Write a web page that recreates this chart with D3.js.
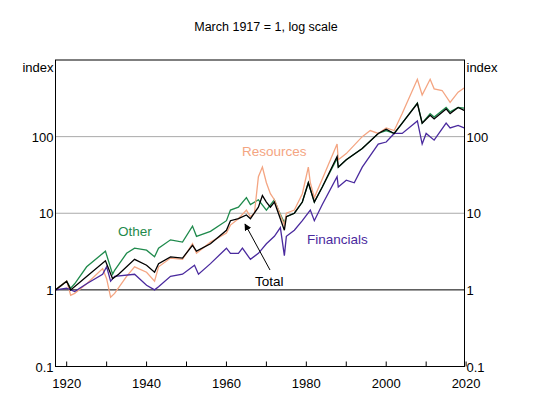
<!DOCTYPE html>
<html><head><meta charset="utf-8">
<script src="https://cdn.jsdelivr.net/npm/d3@7"></script>
<style>body{margin:0;background:#fff}text{font-family:"Liberation Sans",Arial,sans-serif}</style>
</head><body><svg id="c" width="533" height="418"></svg>
<script>
const otherData=[[1917.2,1],[1920,1.3],[1921,1.05],[1922,1.2],[1925,2],[1929.7,3.2],[1931.5,1.6],[1932,1.8],[1935,3],[1937,3.5],[1940,3.3],[1942,2.7],[1943,3.5],[1946,4.5],[1949,4.2],[1951.5,6.8],[1952.5,5],[1956,5.8],[1960,8],[1961,11],[1963,12],[1965,16],[1966,13],[1968,15],[1970,11],[1972,15],[1973,11],[1974.5,7.5],[1975,9],[1977,10],[1979,14],[1980.5,25],[1982,14],[1984,22],[1987.7,52],[1988,40],[1990,50],[1994,70],[1998,110],[2000,120],[2002,110],[2004,150],[2007.8,275],[2009,150],[2011,200],[2012,180],[2015,240],[2016,210],[2018,240],[2019.5,235]];
const totalData=[[1917.2,1],[1920,1.3],[1921,1],[1925,1.5],[1929.7,2.4],[1931.5,1.4],[1933,1.6],[1937,2.5],[1940,2.1],[1942,1.7],[1943,2.2],[1946,2.7],[1949,2.6],[1951.5,3.8],[1952.5,3.2],[1956,4],[1960,6],[1961,8],[1963,8.5],[1965,9.5],[1966,8.5],[1968,12],[1969,17],[1970,14],[1971,12],[1972,14],[1973,10],[1974.5,6],[1975,9],[1977,10],[1979,14],[1980.5,25],[1982,14],[1984,22],[1987.7,55],[1988,40],[1990,50],[1994,70],[1998,110],[2000,125],[2002,110],[2004,150],[2007.8,270],[2009,150],[2011,190],[2012,170],[2015,230],[2016,200],[2018,240],[2019.5,220]];
const resourcesData=[[1917.2,1],[1920,1.3],[1921,0.85],[1922,0.9],[1925,1.2],[1929,1.9],[1930,1.4],[1931,0.8],[1932,0.9],[1935,1.5],[1937,2],[1940,1.7],[1942,1.3],[1943,2],[1946,2.6],[1949,2.5],[1951.5,4],[1952.5,3],[1956,4.2],[1960,5.5],[1961,7],[1963,8.5],[1965,11],[1966,9],[1967,10],[1968,30],[1969,40],[1970,25],[1971,18],[1972,15],[1974.5,7],[1975,10],[1977,11],[1979,18],[1980.5,40],[1981,25],[1982,16],[1984,28],[1987.7,80],[1988,50],[1990,60],[1994,100],[1996,120],[1998,110],[2000,130],[2002,120],[2004,200],[2007.8,560],[2009,350],[2011,560],[2012,420],[2014,400],[2016,280],[2018,380],[2019.5,430]];
const financialsData=[[1917.2,1],[1920,1.05],[1922,0.95],[1925,1.2],[1929,1.6],[1930,2],[1931,1.3],[1932,1.5],[1937,1.6],[1940,1.15],[1942,1],[1943,1.1],[1946,1.5],[1949,1.6],[1952,2.1],[1953,1.6],[1956,2.2],[1960,3.5],[1961,3],[1963,3],[1964,3.5],[1966,2.5],[1968,3],[1970,4],[1972,5],[1973.5,6.5],[1974.5,2.8],[1975,5],[1977,6],[1979,8],[1981,11],[1982,8],[1984,13],[1987.7,30],[1988,22],[1990,27],[1992,25],[1994,40],[1998,80],[2000,85],[2002,110],[2004,110],[2007.8,160],[2009,80],[2010,110],[2012,90],[2015,150],[2016,130],[2018,140],[2019.5,130]];
const yTicks=[0.1,1,10,100];
const yTickLabels=["0.1","1","10","100"];
const xTicks=[1920,1930,1940,1950,1960,1970,1980,1990,2000,2010,2020];
const xLabels=[1920,1940,1960,1980,2000,2020];

const svg=d3.select("#c");
const L=55.5,R=464.5,T=60,B=366.5;
const x=d3.scaleLinear().domain([1917.2,2019.6]).range([L,R]);
const y=d3.scaleLog().domain([0.1,1000]).range([B,T]);
svg.append("text").attr("x",266).attr("y",31).attr("text-anchor","middle").attr("font-size",12.5).text("March 1917 = 1, log scale");
// grid
svg.selectAll(".g").data([10,100]).enter().append("line").attr("x1",L).attr("x2",R).attr("y1",d=>y(d)).attr("y2",d=>y(d)).attr("stroke","#aaa");
svg.append("line").attr("x1",L).attr("x2",R).attr("y1",y(1)).attr("y2",y(1)).attr("stroke","#000");
const line=d3.line().x(d=>x(d[0])).y(d=>y(d[1]));
const series=[[otherData,"#1f8a4c"],[resourcesData,"#f4a582"],[financialsData,"#4a2a9e"],[totalData,"#000"]];
series.forEach(([d,c])=>svg.append("path").datum(d).attr("d",line).attr("fill","none").attr("stroke",c).attr("stroke-width",1.3));
svg.append("rect").attr("x",L).attr("y",T).attr("width",R-L).attr("height",B-T).attr("fill","none").attr("stroke","#000");
// ticks
xTicks.forEach(t=>svg.append("line").attr("x1",x(t)).attr("x2",x(t)).attr("y1",B).attr("y2",B-5).attr("stroke","#000"));
xLabels.forEach(t=>svg.append("text").attr("x",x(t)).attr("y",B+21).attr("text-anchor","middle").attr("font-size",13).text(t));
yTicks.forEach((t,i)=>{
 svg.append("text").attr("x",L-2).attr("y",y(t)+5).attr("text-anchor","end").attr("font-size",13).text(yTickLabels[i]);
 svg.append("text").attr("x",R+2).attr("y",y(t)+5).attr("text-anchor","start").attr("font-size",13).text(yTickLabels[i]);
});
svg.append("text").attr("x",L-2).attr("y",72).attr("text-anchor","end").attr("font-size",13).text("index");
svg.append("text").attr("x",R+2).attr("y",72).attr("text-anchor","start").attr("font-size",13).text("index");
// labels
const lab=(t,xx,yy,c)=>svg.append("text").attr("x",xx).attr("y",yy).attr("font-size",13.5).attr("fill",c).text(t);
lab("Resources",242,156,"#f4a582");lab("Other",118,236,"#1f8a4c");lab("Financials",307,244,"#4a2a9e");lab("Total",255,286,"#000");
svg.append("defs").append("marker").attr("id","ar").attr("viewBox","0 0 10 10").attr("refX",9).attr("refY",5).attr("markerWidth",7).attr("markerHeight",7).attr("orient","auto").append("path").attr("d","M0,0L10,5L0,10z").attr("fill","#000");
svg.append("line").attr("x1",270).attr("y1",270).attr("x2",245).attr("y2",224).attr("stroke","#000").attr("marker-end","url(#ar)");
</script></body></html>
